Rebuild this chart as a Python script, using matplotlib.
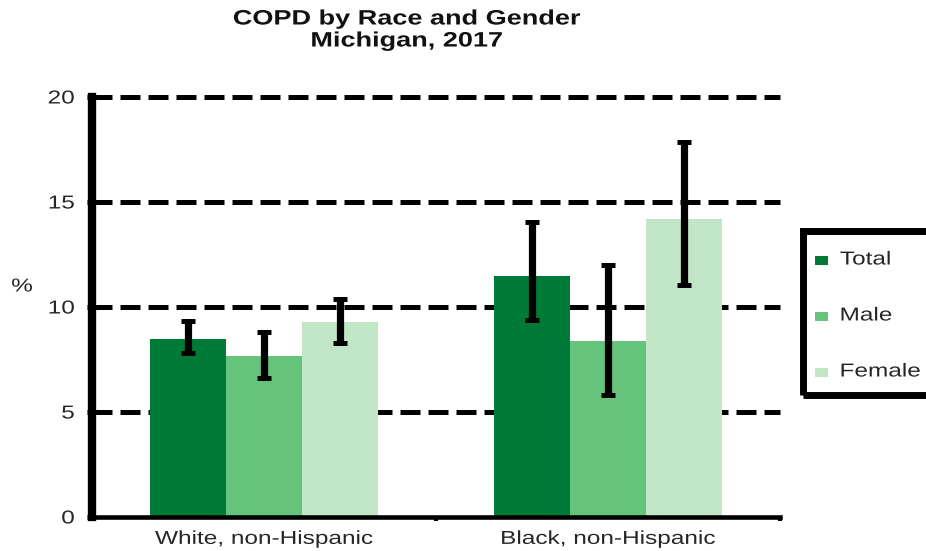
import matplotlib
matplotlib.use("Agg")
import matplotlib.pyplot as plt
import numpy as np
from matplotlib import patheffects
from matplotlib.transforms import Affine2D
from matplotlib.patches import Rectangle

# ---- data ----
groups = ["White, non-Hispanic", "Black, non-Hispanic"]
series = ["Total", "Male", "Female"]
total = [8.5, 11.46]
male = [7.65, 8.36]
female = [9.28, 14.2]
total_lo = [7.8, 9.37]
total_hi = [9.35, 14.03]
male_lo = [6.6, 5.8]
male_hi = [8.8, 12.0]
female_lo = [8.28, 11.04]
female_hi = [10.4, 17.86]
yticks = [0, 5, 10, 15, 20]
colors = ["#007A37", "#66C37B", "#C1E6C6"]

plt.rcParams['font.family'] = ['Liberation Sans', 'DejaVu Sans']


class HStretch(patheffects.AbstractPathEffect):
    """Stretch text horizontally around an anchor."""
    def __init__(self, sx=1.3, anchor='center'):
        super().__init__()
        self.sx = sx
        self.anchor = anchor

    def draw_path(self, renderer, gc, tpath, affine, rgbFace=None):
        ext = tpath.get_extents(affine)
        if self.anchor == 'left':
            cx = ext.x0
        elif self.anchor == 'right':
            cx = ext.x1
        else:
            cx = 0.5 * (ext.x0 + ext.x1)
        new_aff = affine + Affine2D().translate(-cx, 0).scale(self.sx, 1).translate(cx, 0)
        renderer.draw_path(gc, tpath, new_aff, rgbFace)


W, H = 926, 551
fig = plt.figure(figsize=(W / 100, H / 100), dpi=100)
ax = fig.add_axes([92 / W, 1 - 517 / H, (780 - 92) / W, (517 - 97) / H])

vals = [total, male, female]
los = [total_lo, male_lo, female_lo]
his = [total_hi, male_hi, female_hi]
x = np.arange(len(groups))
bw = 0.221
offsets = [-bw, 0, bw]

for v, lo, hi, off, c, name in zip(vals, los, his, offsets, colors, series):
    v = np.array(v); lo = np.array(lo); hi = np.array(hi)
    ax.bar(x + off, v, width=bw, color=c, zorder=2, label=name)
    ax.errorbar(x + off, v, yerr=[v - lo, hi - v], fmt='none', ecolor='black',
                elinewidth=5.2, capsize=4.8, capthick=3.6, zorder=4)

ax.set_xlim(-0.5, 1.5)
ax.set_ylim(0, 20)

# dashed gridlines
ax.hlines(yticks[1:], 0, 1, transform=ax.get_yaxis_transform(), colors='black',
          linewidth=3.6, linestyles=(0, (4.0, 1.6)), zorder=1, clip_on=False)

# spines
for s in ['top', 'right']:
    ax.spines[s].set_visible(False)
ax.spines['left'].set_linewidth(6)
ax.spines['left'].set_zorder(5)
ax.spines['bottom'].set_linewidth(3.3)
ax.spines['bottom'].set_zorder(5)

# y ticks
ax.set_yticks(yticks)
ax.set_yticklabels([str(t) for t in yticks])
ax.tick_params(axis='y', direction='out', length=3.5, width=3.6, pad=9,
               labelsize=13.5, labelcolor='#262626')

# x ticks: separators at boundaries, labels at centers
ax.set_xticks([-0.5, 0.5, 1.5])
ax.set_xticklabels(['', '', ''])
ax.tick_params(axis='x', which='major', direction='out', length=3, width=3)
ax.set_xticks(x, minor=True)
ax.set_xticklabels(groups, minor=True)
ax.tick_params(axis='x', which='minor', length=0, pad=10, labelsize=13.5,
               labelcolor='#262626')

for lab in ax.get_yticklabels():
    lab.set_path_effects([HStretch(1.3, 'right')])
for lab in ax.get_xticklabels(minor=True):
    lab.set_path_effects([HStretch(1.3, 'center')])

# y label "%"
fig.text(22 / W, 1 - 287 / H, "%", ha='center', va='center', fontsize=13.5,
         color='#262626', path_effects=[HStretch(1.3, 'center')])

# title
fig.text(407 / W, 1 - 19 / H, "COPD by Race and Gender", ha='center', va='center',
         fontsize=15, fontweight='bold', color='#111111',
         path_effects=[HStretch(1.3, 'center')])
fig.text(407 / W, 1 - 41 / H, "Michigan, 2017", ha='center', va='center',
         fontsize=15, fontweight='bold', color='#111111',
         path_effects=[HStretch(1.3, 'center')])

# legend (manual box, cut at right edge of the figure like the reference)
box = Rectangle((803 / W, 1 - 395 / H), 220 / W, (395 - 231) / H,
                transform=fig.transFigure, fill=False, edgecolor='black',
                linewidth=5, clip_on=False)
fig.add_artist(box)
leg_y = [260, 316, 372]
for name, c, yy in zip(series, colors, leg_y):
    fig.add_artist(Rectangle((815 / W, 1 - (yy + 4.5) / H), 13 / W, 9 / H,
                             transform=fig.transFigure, facecolor=c,
                             edgecolor='none'))
    fig.text(840 / W, 1 - yy / H, name, ha='left', va='center', fontsize=13.5,
             color='#262626', path_effects=[HStretch(1.3, 'left')])

fig.savefig("out.png", dpi=100)
